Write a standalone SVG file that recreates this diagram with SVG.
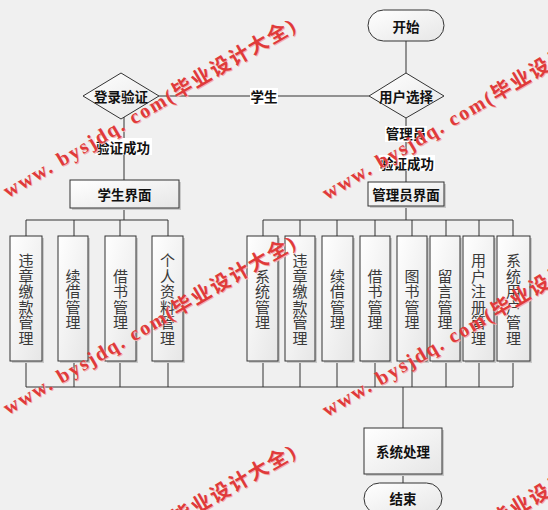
<svg xmlns="http://www.w3.org/2000/svg" width="548" height="510" viewBox="0 0 548 510">
<defs>
<linearGradient id="g" x1="0" y1="0" x2="1" y2="1">
<stop offset="0" stop-color="#ffffff"/>
<stop offset="1" stop-color="#e6e6e6"/>
</linearGradient>
<style>
.shape{fill:url(#g);stroke:#333;stroke-width:1}
.sh{fill:#c9c9c9}
.ln{fill:none;stroke:#333;stroke-width:1}
.t{font-family:"Noto Sans CJK SC",sans-serif;font-weight:bold;font-size:13.5px;fill:#111;text-anchor:middle;dominant-baseline:central}
.v{font-family:"Noto Sans CJK SC",sans-serif;font-size:15px;fill:#3a3a3a;text-anchor:middle;dominant-baseline:central}
.lb{fill:#ffffff}
.wm{font-family:"Liberation Serif","Noto Sans CJK SC",serif;font-weight:bold;font-size:20px;fill:#e03a3a}
.wms{font-family:"Liberation Serif","Noto Sans CJK SC",serif;font-weight:bold;font-size:20px;fill:#f2b0b0}
</style>
</defs>
<rect x="0" y="0" width="548" height="510" fill="#f0f0f0"/>

<g id="connectors">
<line class="ln" x1="406" y1="41" x2="406" y2="73"/>
<line class="ln" x1="159" y1="96" x2="369" y2="96"/>
<line class="ln" x1="124" y1="112" x2="124" y2="180"/>
<line class="ln" x1="406" y1="118" x2="406" y2="182"/>
<line class="ln" x1="124" y1="208" x2="124" y2="220"/>
<line class="ln" x1="26" y1="220" x2="168" y2="220"/>
<line class="ln" x1="26" y1="220" x2="26" y2="236"/>
<line class="ln" x1="74" y1="220" x2="74" y2="236"/>
<line class="ln" x1="120" y1="220" x2="120" y2="236"/>
<line class="ln" x1="168" y1="220" x2="168" y2="236"/>
<line class="ln" x1="406" y1="206" x2="406" y2="220"/>
<line class="ln" x1="263" y1="220" x2="513" y2="220"/>
<line class="ln" x1="263" y1="220" x2="263" y2="236"/>
<line class="ln" x1="300" y1="220" x2="300" y2="236"/>
<line class="ln" x1="337" y1="220" x2="337" y2="236"/>
<line class="ln" x1="375" y1="220" x2="375" y2="236"/>
<line class="ln" x1="412" y1="220" x2="412" y2="236"/>
<line class="ln" x1="446" y1="220" x2="446" y2="236"/>
<line class="ln" x1="479" y1="220" x2="479" y2="236"/>
<line class="ln" x1="513" y1="220" x2="513" y2="236"/>
<path class="ln" d="M26 361V387M74 361V387M120 361V387M168 361V387M263 361V387M300 361V387M337 361V387M375 361V387M412 361V387M446 361V387M479 361V387M513 361V387"/>
<line class="ln" x1="26" y1="387" x2="513" y2="387"/>
<line class="ln" x1="403" y1="387" x2="403" y2="428"/>
<line class="ln" x1="403" y1="474" x2="403" y2="483"/>
<rect class="lb" x="250" y="88" width="28" height="17"/>
<text class="t" x="264" y="96">学生</text>
<rect class="lb" x="95" y="138" width="57" height="17"/>
<text class="t" x="123" y="147">验证成功</text>
<rect class="lb" x="385" y="126" width="42" height="16"/>
<text class="t" x="406" y="133">管理员</text>
<rect class="lb" x="379" y="155" width="56" height="16"/>
<text class="t" x="407" y="163">验证成功</text>
</g>

<g id="start">
<rect class="shape" x="368" y="10" width="76" height="31" rx="15.5"/>
<text class="t" x="406" y="26">开始</text>
</g>
<g id="userChoice">
<polygon class="shape" points="406,73 444,96 406,118 369,96"/>
<text class="t" x="406" y="96">用户选择</text>
</g>
<g id="loginCheck">
<polygon class="shape" points="121,73 159,96 121,119 83,96"/>
<text class="t" x="121" y="96">登录验证</text>
</g>
<g id="studentUI">
<rect class="sh" x="72" y="182" width="109" height="28"/>
<rect class="shape" x="70" y="180" width="109" height="28"/>
<text class="t" x="124.5" y="194">学生界面</text>
</g>
<g id="adminUI">
<rect class="sh" x="370" y="184" width="76" height="24"/>
<rect class="shape" x="368" y="182" width="76" height="24"/>
<text class="t" x="406" y="194">管理员界面</text>
</g>

<g id="s1">
<rect class="sh" x="12" y="238" width="32" height="125"/>
<rect class="shape" x="10" y="236" width="32" height="125"/>
<text class="v"><tspan x="26" y="259.2">违</tspan><tspan x="26" y="274.7">章</tspan><tspan x="26" y="290.2">缴</tspan><tspan x="26" y="305.7">款</tspan><tspan x="26" y="321.2">管</tspan><tspan x="26" y="336.7">理</tspan></text>
</g>
<g id="s2">
<rect class="sh" x="60" y="238" width="30" height="125"/>
<rect class="shape" x="58" y="236" width="30" height="125"/>
<text class="v"><tspan x="73" y="274.7">续</tspan><tspan x="73" y="290.2">借</tspan><tspan x="73" y="305.7">管</tspan><tspan x="73" y="321.2">理</tspan></text>
</g>
<g id="s3">
<rect class="sh" x="107" y="238" width="31" height="125"/>
<rect class="shape" x="105" y="236" width="31" height="125"/>
<text class="v"><tspan x="120.5" y="274.7">借</tspan><tspan x="120.5" y="290.2">书</tspan><tspan x="120.5" y="305.7">管</tspan><tspan x="120.5" y="321.2">理</tspan></text>
</g>
<g id="s4">
<rect class="sh" x="154" y="238" width="31" height="125"/>
<rect class="shape" x="152" y="236" width="31" height="125"/>
<text class="v"><tspan x="167.5" y="259.2">个</tspan><tspan x="167.5" y="274.7">人</tspan><tspan x="167.5" y="290.2">资</tspan><tspan x="167.5" y="305.7">料</tspan><tspan x="167.5" y="321.2">管</tspan><tspan x="167.5" y="336.7">理</tspan></text>
</g>

<g id="a1">
<rect class="sh" x="249" y="238" width="31" height="125"/>
<rect class="shape" x="247" y="236" width="31" height="125"/>
<text class="v"><tspan x="262.5" y="274.7">系</tspan><tspan x="262.5" y="290.2">统</tspan><tspan x="262.5" y="305.7">管</tspan><tspan x="262.5" y="321.2">理</tspan></text>
</g>
<g id="a2">
<rect class="sh" x="287" y="238" width="30" height="125"/>
<rect class="shape" x="285" y="236" width="30" height="125"/>
<text class="v"><tspan x="300" y="259.2">违</tspan><tspan x="300" y="274.7">章</tspan><tspan x="300" y="290.2">缴</tspan><tspan x="300" y="305.7">款</tspan><tspan x="300" y="321.2">管</tspan><tspan x="300" y="336.7">理</tspan></text>
</g>
<g id="a3">
<rect class="sh" x="324" y="238" width="31" height="125"/>
<rect class="shape" x="322" y="236" width="31" height="125"/>
<text class="v"><tspan x="337.5" y="274.7">续</tspan><tspan x="337.5" y="290.2">借</tspan><tspan x="337.5" y="305.7">管</tspan><tspan x="337.5" y="321.2">理</tspan></text>
</g>
<g id="a4">
<rect class="sh" x="362" y="238" width="30" height="125"/>
<rect class="shape" x="360" y="236" width="30" height="125"/>
<text class="v"><tspan x="375" y="274.7">借</tspan><tspan x="375" y="290.2">书</tspan><tspan x="375" y="305.7">管</tspan><tspan x="375" y="321.2">理</tspan></text>
</g>
<g id="a5">
<rect class="sh" x="399" y="238" width="30" height="125"/>
<rect class="shape" x="397" y="236" width="30" height="125"/>
<text class="v"><tspan x="412" y="274.7">图</tspan><tspan x="412" y="290.2">书</tspan><tspan x="412" y="305.7">管</tspan><tspan x="412" y="321.2">理</tspan></text>
</g>
<g id="a6">
<rect class="sh" x="432" y="238" width="30" height="125"/>
<rect class="shape" x="430" y="236" width="30" height="125"/>
<text class="v"><tspan x="445" y="274.7">留</tspan><tspan x="445" y="290.2">言</tspan><tspan x="445" y="305.7">管</tspan><tspan x="445" y="321.2">理</tspan></text>
</g>
<g id="a7">
<rect class="sh" x="465" y="238" width="31" height="125"/>
<rect class="shape" x="463" y="236" width="31" height="125"/>
<text class="v"><tspan x="478.5" y="259.2">用</tspan><tspan x="478.5" y="274.7">户</tspan><tspan x="478.5" y="290.2">注</tspan><tspan x="478.5" y="305.7">册</tspan><tspan x="478.5" y="321.2">管</tspan><tspan x="478.5" y="336.7">理</tspan></text>
</g>
<g id="a8">
<rect class="sh" x="499" y="238" width="33" height="125"/>
<rect class="shape" x="497" y="236" width="33" height="125"/>
<text class="v"><tspan x="513.5" y="259.2">系</tspan><tspan x="513.5" y="274.7">统</tspan><tspan x="513.5" y="290.2">用</tspan><tspan x="513.5" y="305.7">户</tspan><tspan x="513.5" y="321.2">管</tspan><tspan x="513.5" y="336.7">理</tspan></text>
</g>

<g id="process">
<rect class="sh" x="366" y="430" width="78" height="46"/>
<rect class="shape" x="364" y="428" width="78" height="46"/>
<text class="t" x="403" y="451">系统处理</text>
</g>
<g id="end">
<rect class="shape" x="364" y="483" width="78" height="31" rx="15.5"/>
<text class="t" x="403" y="498">结束</text>
</g>

<g id="watermarks">
<text class="wms" transform="translate(9,199) rotate(-30.2)" textLength="334" lengthAdjust="spacing">www. bysjdq. com(毕业设计大全)</text>
<text class="wm" transform="translate(8,198) rotate(-30.2)" textLength="334" lengthAdjust="spacing">www. bysjdq. com(毕业设计大全)</text>
<text class="wms" transform="translate(328,201) rotate(-30.2)" textLength="334" lengthAdjust="spacing">www. bysjdq. com(毕业设计大全)</text>
<text class="wm" transform="translate(327,200) rotate(-30.2)" textLength="334" lengthAdjust="spacing">www. bysjdq. com(毕业设计大全)</text>
<text class="wms" transform="translate(9,416) rotate(-30.2)" textLength="334" lengthAdjust="spacing">www. bysjdq. com(毕业设计大全)</text>
<text class="wm" transform="translate(8,415) rotate(-30.2)" textLength="334" lengthAdjust="spacing">www. bysjdq. com(毕业设计大全)</text>
<text class="wms" transform="translate(328,418) rotate(-30.2)" textLength="334" lengthAdjust="spacing">www. bysjdq. com(毕业设计大全)</text>
<text class="wm" transform="translate(327,417) rotate(-30.2)" textLength="334" lengthAdjust="spacing">www. bysjdq. com(毕业设计大全)</text>
<text class="wms" transform="translate(9,625) rotate(-30.2)" textLength="334" lengthAdjust="spacing">www. bysjdq. com(毕业设计大全)</text>
<text class="wm" transform="translate(8,624) rotate(-30.2)" textLength="334" lengthAdjust="spacing">www. bysjdq. com(毕业设计大全)</text>
<text class="wms" transform="translate(328,627) rotate(-30.2)" textLength="334" lengthAdjust="spacing">www. bysjdq. com(毕业设计大全)</text>
<text class="wm" transform="translate(327,626) rotate(-30.2)" textLength="334" lengthAdjust="spacing">www. bysjdq. com(毕业设计大全)</text>
</g>
</svg>
